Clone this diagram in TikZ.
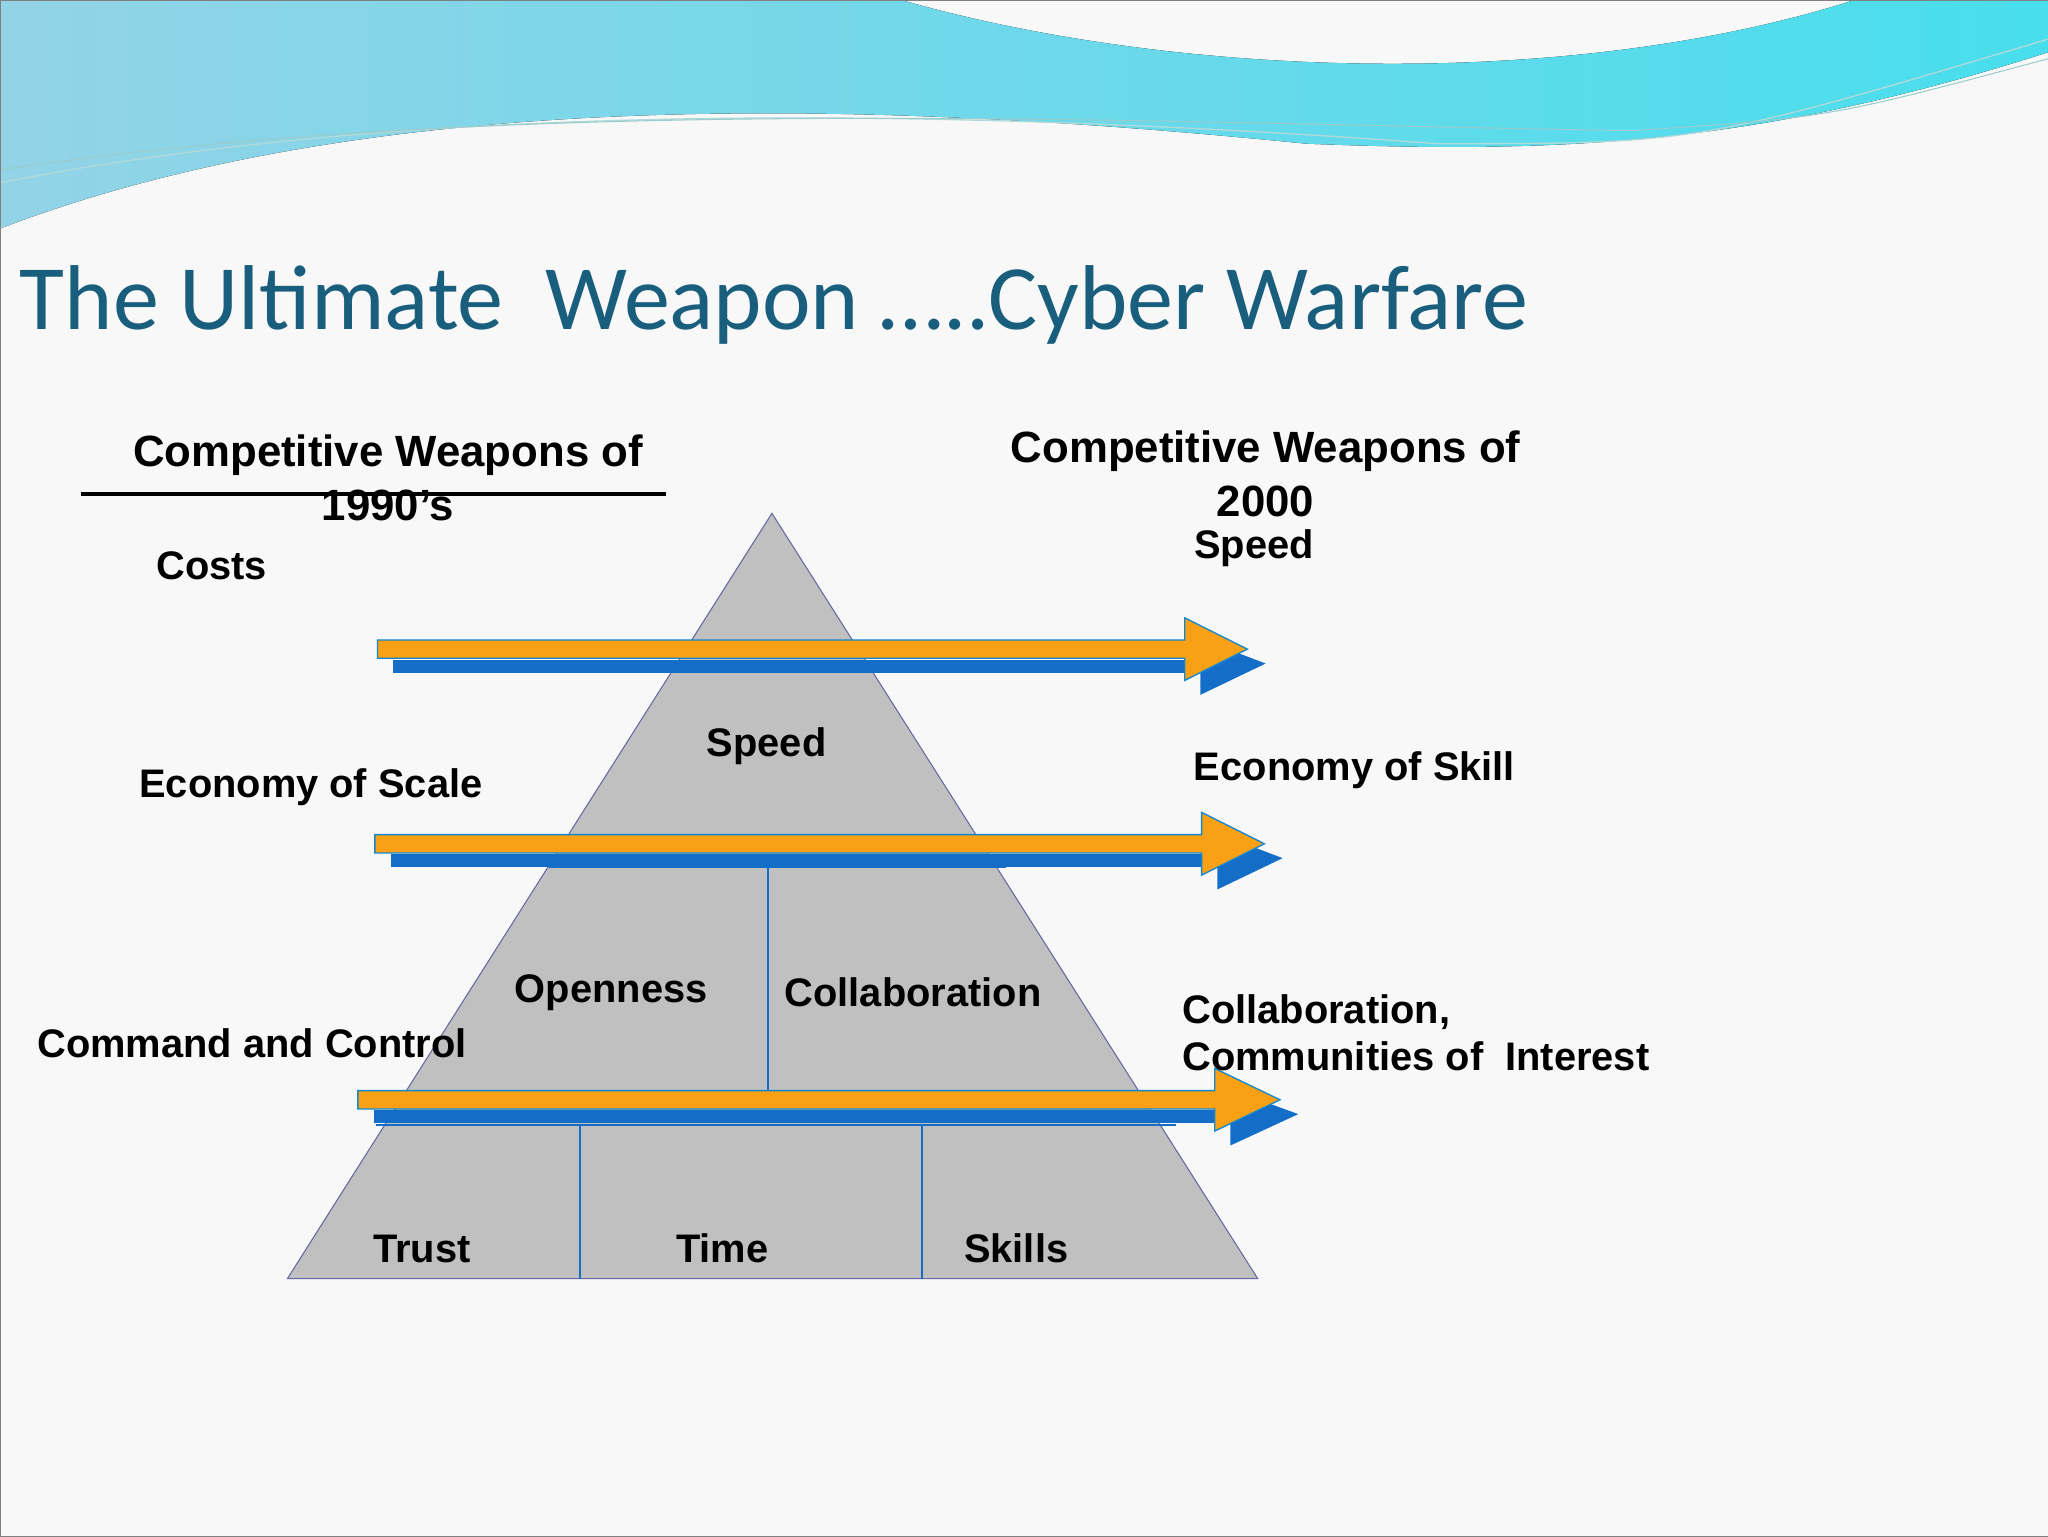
\documentclass[tikz,border=0pt]{standalone}
\usepackage{fontspec}
\setmainfont{Liberation Sans}
\newfontfamily\titlefont{Carlito}
\begin{document}
\begin{tikzpicture}[x=1pt,y=-1pt,
  lbl/.style={font=\fontsize{30.5}{34}\selectfont\bfseries,inner sep=0pt},
  pyr/.style={draw=blue!40!black!60,line width=0.8pt},
  div/.style={draw=abl,line width=1.5pt}]
\definecolor{bg}{RGB}{248,248,248}
\definecolor{wave}{RGB}{120,200,225}
\definecolor{ttl}{RGB}{25,95,125}
\definecolor{aor}{RGB}{250,160,20}
\definecolor{abl}{RGB}{20,110,200}
\definecolor{ped}{RGB}{192,192,192}
\useasboundingbox (0,0) rectangle (1568,1176);
\fill[bg] (0,0) rectangle (1568,1176);
% wave
\fill[left color=wave!80!white,right color=cyan!40!wave] (0,0) -- (690,0) .. controls (900,60) and (1200,70) .. (1420,0) -- (1568,0) -- (1568,40) .. controls (1350,110) and (1200,118) .. (1000,110) .. controls (700,80) and (300,60) .. (0,175) -- cycle;
\draw[white!70!teal,line width=1pt] (0,140) .. controls (300,80) and (700,80) .. (1100,110) .. controls (1300,110) .. (1568,30);
\draw[white!60!teal,line width=0.8pt] (0,130) .. controls (400,70) and (900,95) .. (1250,100) .. controls (1400,90) .. (1568,45);
\draw[black!50] (0,0) rectangle (1568,1176);
\node[anchor=base west,inner sep=0pt,text=ttl,font=\titlefont\fontsize{70.5}{74}\selectfont] (title) at (15,252) {The Ultimate\ \ Weapon …..Cyber Warfare};
% pyramid
\fill[ped] (591,393) -- (963,979) -- (220,979) -- cycle;
\draw[pyr] (591,393) -- (963,979) -- (220,979) -- cycle;
\draw[div] (420,664) -- (770,664);
\draw[div] (588,664) -- (588,835);
\draw[div] (288,861) -- (900,861);
\draw[div] (444,861) -- (444,979);
\draw[div] (706,861) -- (706,979);
% arrows
\foreach \xa/\xb/\xc/\yy in {289/907/955/497, 287/920/968/646, 274/930/980/842}{
  \fill[abl] (\xa+12,\yy+8) rectangle (\xb+12,\yy+18);
  \fill[abl] (\xb+12,\yy-8) -- (\xc+14,\yy+11) -- (\xb+12,\yy+35) -- cycle;
  \fill[aor,draw=cyan!70!blue,line width=1pt] (\xa,\yy-7) -- (\xb,\yy-7) -- (\xb,\yy-24) -- (\xc,\yy) -- (\xb,\yy+24) -- (\xb,\yy+7) -- (\xa,\yy+7) -- cycle;
}
% headers
\node[lbl,font=\fontsize{33.5}{41}\selectfont\bfseries,align=center] (h1) at (297,366) {Competitive Weapons of\\1990’s};
\draw[line width=3pt] (62,378) -- (510,378);
\node[lbl,font=\fontsize{33.5}{41}\selectfont\bfseries,align=center] (h2) at (969,363) {Competitive Weapons of\\2000};
\node[lbl] (c1) at (162,433) {Costs};
\node[lbl] (s1) at (960,420) {Speed};
\node[lbl] (c2) at (238,603) {Economy of Scale};
\node[lbl] (s2) at (1037,590) {Economy of Skill};
\node[lbl] (c3) at (193,799) {Command and Control};
\node[lbl,anchor=west,align=left,font=\fontsize{30.5}{36}\selectfont\bfseries] (s3) at (905,791) {Collaboration,\\Communities of\ \ Interest};
\node[lbl] (p1) at (587,571) {Speed};
\node[lbl] (p2) at (468,760) {Openness};
\node[lbl] (p3) at (699,760) {Collaboration};
\node[lbl] (p4) at (323,956) {Trust};
\node[lbl] (p5) at (553,956) {Time};
\node[lbl] (p6) at (778,956) {Skills};
\end{tikzpicture}
\end{document}
